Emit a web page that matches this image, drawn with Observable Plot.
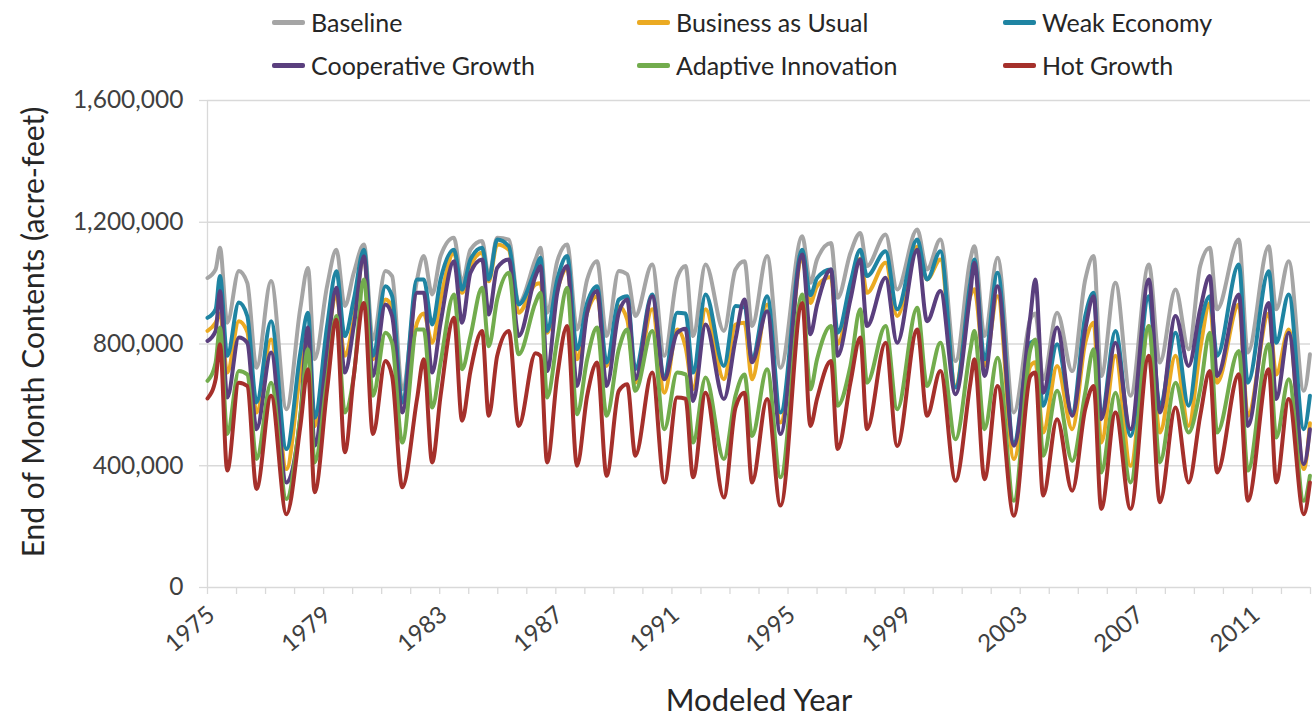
<!DOCTYPE html>
<html><head><meta charset="utf-8">
<script src="https://cdn.jsdelivr.net/npm/d3@7"></script>
<script src="https://cdn.jsdelivr.net/npm/@observablehq/plot@0.6"></script>
<style>
body{margin:0;background:#fff;font-family:Lato,"Open Sans",sans-serif;}
#wrap{position:relative;width:1316px;height:726px;overflow:hidden}
#legend{position:relative;height:70px;width:1316px;}
.item{position:absolute;display:flex;align-items:center;font-size:25px;line-height:30px;color:#262626;white-space:nowrap;}
.sw{display:inline-block;width:33px;height:5px;margin-right:6px;border-radius:2px}
</style></head>
<body><div id="wrap"><div id="legend"></div><div id="chart"></div></div>
<script>
// Time of each read-off point (decimal year) and values (thousand acre-feet)
const times = [1975.00,1975.28,1975.43,1975.68,1976.08,1976.37,1976.69,1977.19,1977.72,1978.20,1978.46,1978.69,1979.12,1979.44,1979.73,1980.04,1980.39,1980.70,1981.13,1981.36,1981.71,1982.22,1982.45,1982.74,1983.03,1983.49,1983.77,1984.06,1984.46,1984.69,1984.98,1985.38,1985.72,1986.30,1986.47,1986.70,1987.05,1987.39,1987.73,1988.08,1988.42,1988.75,1989.17,1989.46,1989.74,1990.32,1990.74,1991.18,1991.47,1991.73,1992.16,1992.79,1993.19,1993.50,1993.76,1994.28,1994.74,1995.49,1995.77,1996.00,1996.48,1996.71,1997.15,1997.49,1997.72,1998.36,1998.76,1999.45,1999.79,2000.25,2000.77,2001.28,2001.42,2001.77,2002.22,2002.78,2003.35,2003.52,2003.79,2004.27,2004.79,2005.24,2005.53,2005.79,2006.28,2006.80,2007.43,2007.81,2008.35,2008.80,2009.20,2009.53,2009.78,2010.53,2010.84,2011.56,2011.82,2012.25,2012.77,2012.98];
const baseline =          [1017,1045,1116,870,1040,1001,722,1007,586,919,1050,750,990,1110,925,1034,1127,815,1040,1023,651,1012,1089,963,1089,1149,1001,1110,1138,1023,1149,1143,935,1078,1116,903,1072,1127,848,1012,1072,826,1040,1029,892,1061,761,1017,1056,826,1061,843,1045,1072,859,1089,722,1154,1001,1078,1132,952,1099,1165,1056,1160,979,1176,1045,1143,744,1078,1121,826,1083,575,881,900,684,903,711,1012,1089,695,1001,630,1061,739,979,783,1056,1116,914,1143,772,1121,914,1072,646,766];
const businessAsUsual =   [843,870,900,706,875,840,575,815,389,706,820,530,800,960,761,881,1090,750,946,920,608,870,900,804,946,1100,968,1056,1100,1006,1127,1110,903,996,1000,837,979,1050,750,903,957,728,924,880,673,914,640,848,790,651,914,684,864,870,684,930,542,1080,935,990,1020,800,968,1080,968,1067,892,1120,1012,1078,662,958,980,728,957,422,728,740,509,728,520,804,870,476,761,400,859,509,761,531,783,935,673,930,564,900,700,848,389,540];
const weakEconomy =       [886,914,1023,761,936,892,608,875,455,772,903,558,859,1039,826,946,1110,761,990,957,608,1012,1012,864,1012,1110,979,1078,1116,1012,1143,1121,930,1045,1083,843,1012,1089,783,935,990,739,946,957,717,963,695,903,900,706,963,728,925,920,750,957,575,1110,960,1017,1045,837,1001,1110,1023,1105,914,1143,1012,1105,657,1001,1078,750,1034,476,804,810,597,799,575,892,968,564,843,498,957,597,837,597,859,957,761,1061,673,1039,804,963,520,630];
const cooperativeGrowth = [810,843,974,624,821,804,520,772,345,564,854,466,772,985,706,859,1088,695,930,892,575,968,968,706,870,1072,870,1034,1078,897,1050,1078,826,1023,1056,711,968,1056,662,903,974,662,903,946,684,957,684,837,850,613,864,619,815,946,740,908,504,1094,832,928,1045,761,946,1078,859,1018,804,1110,875,974,635,968,1067,695,990,466,892,1012,640,854,564,848,957,553,804,520,1012,575,892,728,914,1023,695,963,531,935,619,837,405,520];
const adaptiveInnovation =[679,739,854,504,711,700,422,673,291,564,783,411,684,892,575,695,1012,630,837,804,476,848,848,591,739,963,717,826,985,793,946,1034,766,936,968,624,815,985,569,750,854,564,783,848,646,843,520,706,700,476,690,422,630,700,498,717,362,963,651,750,859,597,728,914,673,859,586,919,662,804,487,780,843,520,755,285,783,815,433,646,416,640,783,378,640,345,859,411,673,509,651,837,509,777,384,799,493,684,285,367];
const hotGrowth =         [621,684,799,384,673,662,324,630,241,531,717,313,650,880,444,695,935,504,744,695,329,620,750,411,630,886,548,711,843,564,761,843,531,770,761,411,695,859,400,630,739,367,646,668,433,706,345,624,620,362,640,296,591,640,345,619,269,935,531,620,744,455,673,821,520,804,465,848,564,711,351,670,750,356,662,236,695,706,302,553,318,586,662,258,575,258,761,280,591,345,564,711,378,701,285,717,345,619,241,345];

const seriesNames = ["Baseline","Business as Usual","Weak Economy","Cooperative Growth","Adaptive Innovation","Hot Growth"];
const seriesValues = [baseline,businessAsUsual,weakEconomy,cooperativeGrowth,adaptiveInnovation,hotGrowth];
const seriesColors = ["#A5A5A5","#EBAA22","#1F84A2","#5A3F7E","#72AC4D","#A5302B"];
const xTickLabels = [1975,1979,1983,1987,1991,1995,1999,2003,2007,2011];
const xMinorTicks = d3.range(1975,2014);
const yTicks = [0,400000,800000,1200000,1600000];

const rows = seriesNames.flatMap((name,i)=>seriesValues[i].map((v,j)=>({series:name,t:times[j],v:v*1000})));

// legend
const legend = document.getElementById("legend");
const colX = [272,637,1003], rowY = [22,65];
seriesNames.forEach((n,i)=>{
  const it = document.createElement("div");
  it.className="item";
  it.style.left = colX[i%3]+"px";
  it.style.top = (rowY[Math.floor(i/3)]-15)+"px";
  it.innerHTML = `<span class="sw" style="background:${seriesColors[i]}"></span><span>${n}</span>`;
  legend.appendChild(it);
});

const chart = Plot.plot({
  width:1316, height:656,
  marginLeft:207, marginRight:6, marginTop:30, marginBottom:139,
  style:{fontFamily:"Lato, 'Open Sans', sans-serif", color:"#404040", background:"#fff"},
  x:{domain:[1975,2013], axis:null},
  y:{domain:[0,1600000], axis:null},
  color:{domain:seriesNames, range:seriesColors},
  marks:[
    Plot.gridY(yTicks,{stroke:"#D9D9D9", strokeOpacity:1, strokeWidth:1.3}),
    Plot.ruleX([1975],{stroke:"#D9D9D9", strokeWidth:1.3}),
    Plot.axisX(xMinorTicks,{tickSize:7, tickFormat:()=>"", stroke:"#D9D9D9", strokeWidth:1.3, label:null}),
    Plot.axisY(yTicks,{tickSize:8, tickFormat:()=>"", stroke:"#D9D9D9", strokeWidth:1.3, label:null}),
    Plot.text(yTicks,{x:()=>1975, y:d=>d, text:d=>d3.format(",")(d), textAnchor:"end", dx:-24, fontSize:24.5, fill:"#404040"}),
    Plot.text(xTickLabels,{x:d=>d, y:()=>0, text:d=>String(d), textAnchor:"end", rotate:-40, dx:4, dy:24, fontSize:24, fill:"#404040"}),
    Plot.text(["End of Month Contents (acre-feet)"],{frameAnchor:"left", textAnchor:"middle", rotate:-90, dx:-173, dy:-12, fontSize:30, fill:"#262626"}),
    Plot.text(["Modeled Year"],{frameAnchor:"bottom", textAnchor:"middle", dy:123, fontSize:31, fill:"#262626"}),
    Plot.line(rows,{x:"t", y:"v", z:"series", stroke:"series", strokeWidth:4, curve:"monotone-x", strokeLinejoin:"round"})
  ]
});
document.getElementById("chart").appendChild(chart);
</script></body></html>
